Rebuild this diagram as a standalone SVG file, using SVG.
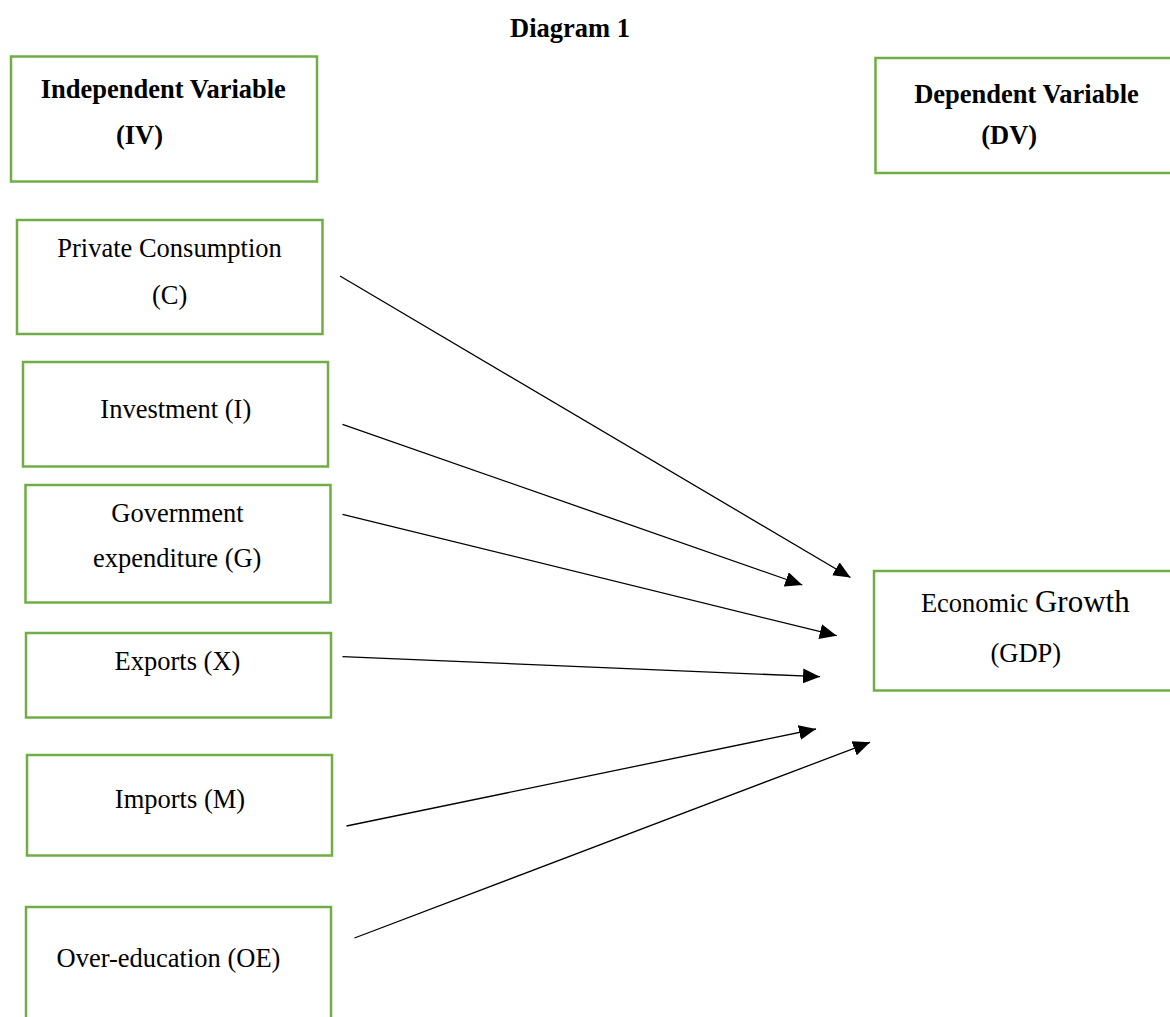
<svg xmlns="http://www.w3.org/2000/svg" width="1170" height="1017" viewBox="0 0 1170 1017">
<style>
.box{fill:#fff;stroke:#70AD47;stroke-width:2.5}
.t{font-family:"Liberation Serif","Times New Roman",serif;font-size:26.5px;fill:#000;text-anchor:middle}
.b{font-weight:bold}
.c{stroke:#000;stroke-width:1.3;fill:none;marker-end:url(#ah)}
</style>
<defs>
<marker id="ah" markerUnits="userSpaceOnUse" markerWidth="18" markerHeight="15" refX="17" refY="7.5" orient="auto">
<path d="M0,0 L17,7.5 L0,15 Z" fill="#000"/>
</marker>
</defs>
<rect width="1170" height="1017" fill="#fff"/>
<text class="t b" x="570" y="37">Diagram 1</text>
<g id="iv">
<rect class="box" x="11" y="56.5" width="306" height="125"/>
<text class="t b" x="163.3" y="98">Independent Variable</text>
<text class="t b" x="139.5" y="144">(IV)</text>
</g>
<g id="dv">
<rect class="box" x="875.5" y="58" width="300" height="115"/>
<text class="t b" x="1026.5" y="103">Dependent Variable</text>
<text class="t b" x="1009.2" y="144">(DV)</text>
</g>
<g id="c">
<rect class="box" x="17" y="220" width="305.5" height="114"/>
<text class="t" x="169.5" y="257">Private Consumption</text>
<text class="t" x="169.7" y="304">(C)</text>
</g>
<g id="i">
<rect class="box" x="23" y="362" width="305" height="104.5"/>
<text class="t" x="175.8" y="418">Investment (I)</text>
</g>
<g id="g">
<rect class="box" x="25.5" y="485" width="305" height="117.5"/>
<text class="t" x="177.5" y="521.5">Government</text>
<text class="t" x="177.2" y="567">expenditure (G)</text>
</g>
<g id="x">
<rect class="box" x="26" y="633" width="305" height="84.5"/>
<text class="t" x="177.5" y="670">Exports (X)</text>
</g>
<g id="m">
<rect class="box" x="27" y="755" width="305" height="100.5"/>
<text class="t" x="180" y="807.5">Imports (M)</text>
</g>
<g id="oe">
<rect class="box" x="26" y="907" width="305" height="130"/>
<text class="t" x="168.5" y="966.5">Over-education (OE)</text>
</g>
<g id="gdp">
<rect class="box" x="874" y="571" width="310" height="119.5"/>
<text class="t" x="1025.3" y="611.5">Economic <tspan font-size="31">Growth</tspan></text>
<text class="t" x="1025.8" y="662">(GDP)</text>
</g>
<g id="connectors">
<line class="c" x1="340" y1="276" x2="850.5" y2="577.5"/>
<line class="c" x1="342.5" y1="424.3" x2="802.3" y2="585"/>
<line class="c" x1="342.5" y1="514.3" x2="836.7" y2="635.7"/>
<line class="c" x1="342.5" y1="656.7" x2="820" y2="676.7"/>
<line class="c" x1="346.5" y1="826" x2="816" y2="729"/>
<line class="c" x1="354.5" y1="938" x2="870" y2="742.3"/>
</g>
</svg>
